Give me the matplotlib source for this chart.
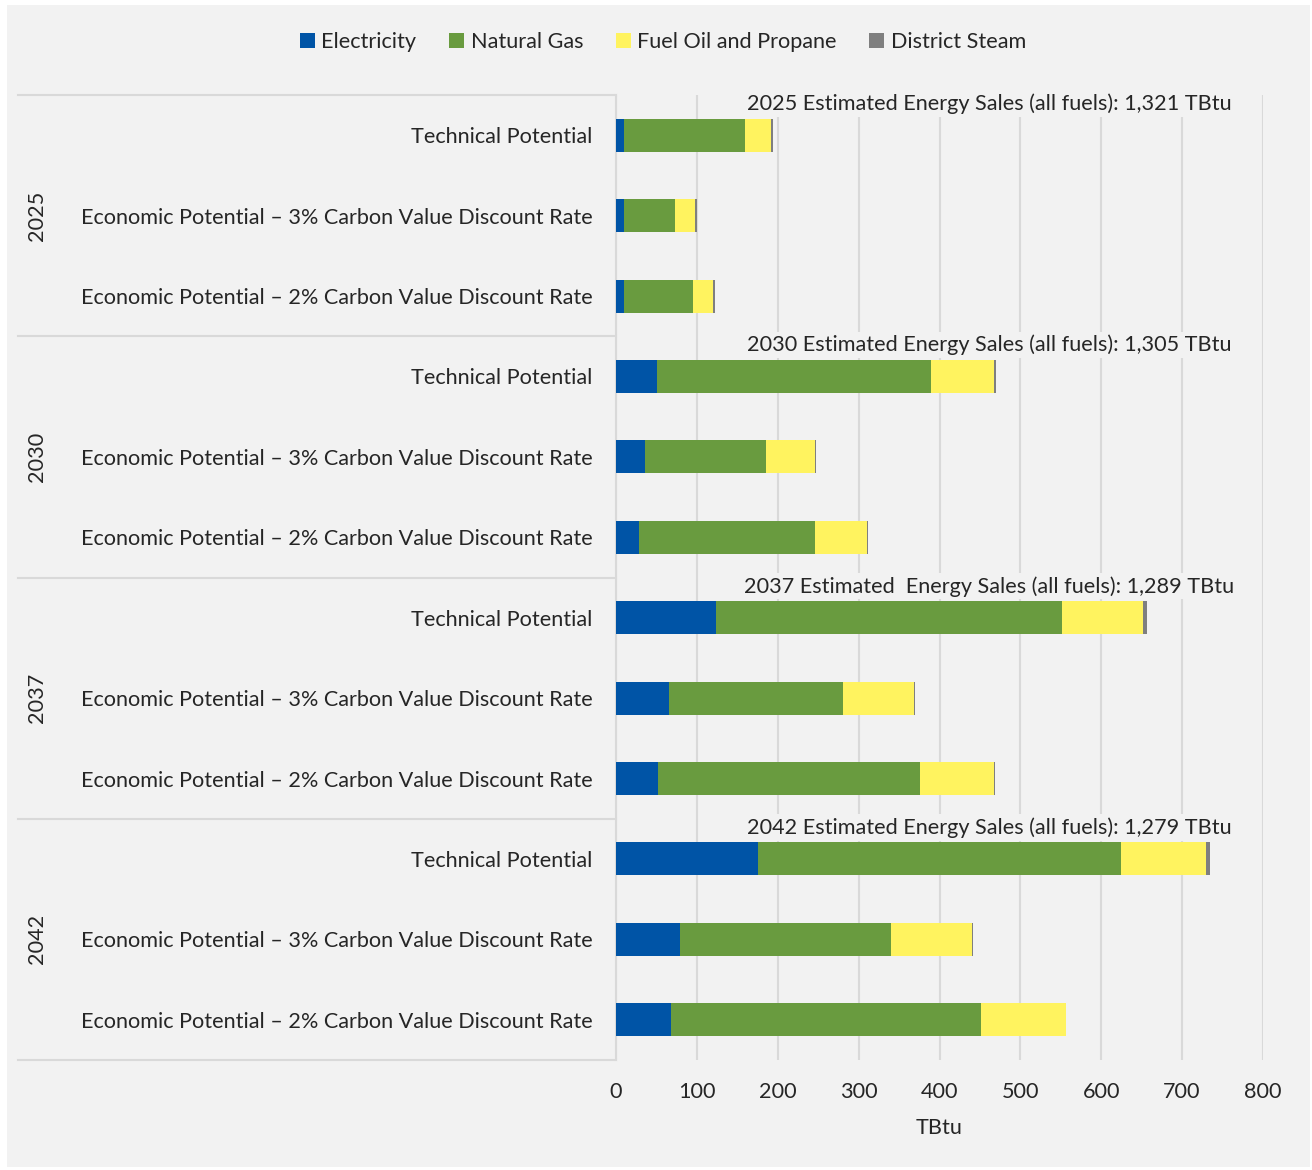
import matplotlib
matplotlib.use("Agg")
import matplotlib.pyplot as plt
from matplotlib.patches import Rectangle
import numpy as np

plt.rcParams['font.family'] = ['Lato', 'DejaVu Sans']

# ---- data (TBtu) ----
years = ["2025", "2030", "2037", "2042"]
scenarios = ["Technical Potential",
             "Economic Potential \u2013 3% Carbon Value Discount Rate",
             "Economic Potential \u2013 2% Carbon Value Discount Rate"]
fuels = ["Electricity", "Natural Gas", "Fuel Oil and Propane", "District Steam"]
colors = ["#0054A6", "#699B3F", "#FFF35F", "#7F7F7F"]

electricity = [10, 10, 10, 51, 36, 29, 124, 66, 52, 176, 79, 68]
natural_gas = [149, 63, 85, 339, 149, 217, 428, 215, 324, 449, 261, 383]
fuel_oil = [33, 25, 25, 77, 61, 64, 100, 87, 92, 105, 100, 105]
district_steam = [2, 2, 2, 3, 1, 1, 4, 1.5, 1, 4, 1.5, 1]

sales_notes = ["2025 Estimated Energy Sales (all fuels): 1,321 TBtu",
               "2030 Estimated Energy Sales (all fuels): 1,305 TBtu",
               "2037 Estimated  Energy Sales (all fuels): 1,289 TBtu",
               "2042 Estimated Energy Sales (all fuels): 1,279 TBtu"]

xticks = [0, 100, 200, 300, 400, 500, 600, 700, 800]

txt = "#262626"
grid_c = "#D9D9D9"
fs = 15.6

fig = plt.figure(figsize=(13.12, 11.7), dpi=100, facecolor="white")
fig.patches.append(Rectangle((7 / 1312, 3 / 1170), 1303 / 1312, 1162 / 1170,
                             transform=fig.transFigure, facecolor="#F2F2F2",
                             edgecolor="none", zorder=-10))
ax = fig.add_axes([616 / 1312, 1 - 1060 / 1170, 647 / 1312, 965 / 1170])
ax.set_facecolor("none")

n = len(years) * len(scenarios)
y = np.arange(n)
series = [electricity, natural_gas, fuel_oil, district_steam]
left = np.zeros(n)
for vals, c, name in zip(series, colors, fuels):
    ax.barh(y, vals, left=left, height=0.41, color=c, label=name, zorder=3)
    left += np.array(vals, dtype=float)

ax.set_xlim(0, 800)
ax.set_ylim(n - 0.5, -0.5)
ax.set_xticks(xticks)
ax.set_xticklabels([str(v) for v in xticks], fontsize=fs, color=txt)
ax.set_yticks(y)
ax.set_yticklabels(scenarios * len(years), fontsize=fs, color=txt)
ax.tick_params(axis="y", length=0, pad=17)
ax.tick_params(axis="x", length=0, pad=16)
ax.grid(axis="x", color=grid_c, linewidth=1.5, zorder=0)
for s in ["top", "right", "bottom"]:
    ax.spines[s].set_visible(False)
ax.spines["left"].set_color(grid_c)
ax.spines["left"].set_linewidth(1.5)
ax.set_xlabel("TBtu", fontsize=fs, color=txt, labelpad=11)

# group separators and year labels on the left
tr = ax.get_yaxis_transform()
for k in range(len(years) + 1):
    yy = k * 3 - 0.5
    ax.plot([-0.924, 0], [yy, yy], transform=tr, color=grid_c,
            linewidth=1.5, clip_on=False)
for k, yr in enumerate(years):
    ax.text(-0.895, k * 3 + 1, yr, transform=tr, rotation=90, fontsize=fs,
            color=txt, ha="center", va="center")
    ax.text(461, k * 3 - 0.39, sales_notes[k], fontsize=fs, color=txt,
            ha="center", va="center", zorder=4,
            bbox=dict(facecolor="#F2F2F2", edgecolor="none", pad=2))

fig.legend(loc="center", bbox_to_anchor=(663 / 1312, 1 - 42 / 1170), ncol=4,
           frameon=False, fontsize=fs, handlelength=0.7, handleheight=0.7,
           handletextpad=0.3, columnspacing=1.5, labelcolor=txt)

fig.savefig("out.png", dpi=100, facecolor="white")
